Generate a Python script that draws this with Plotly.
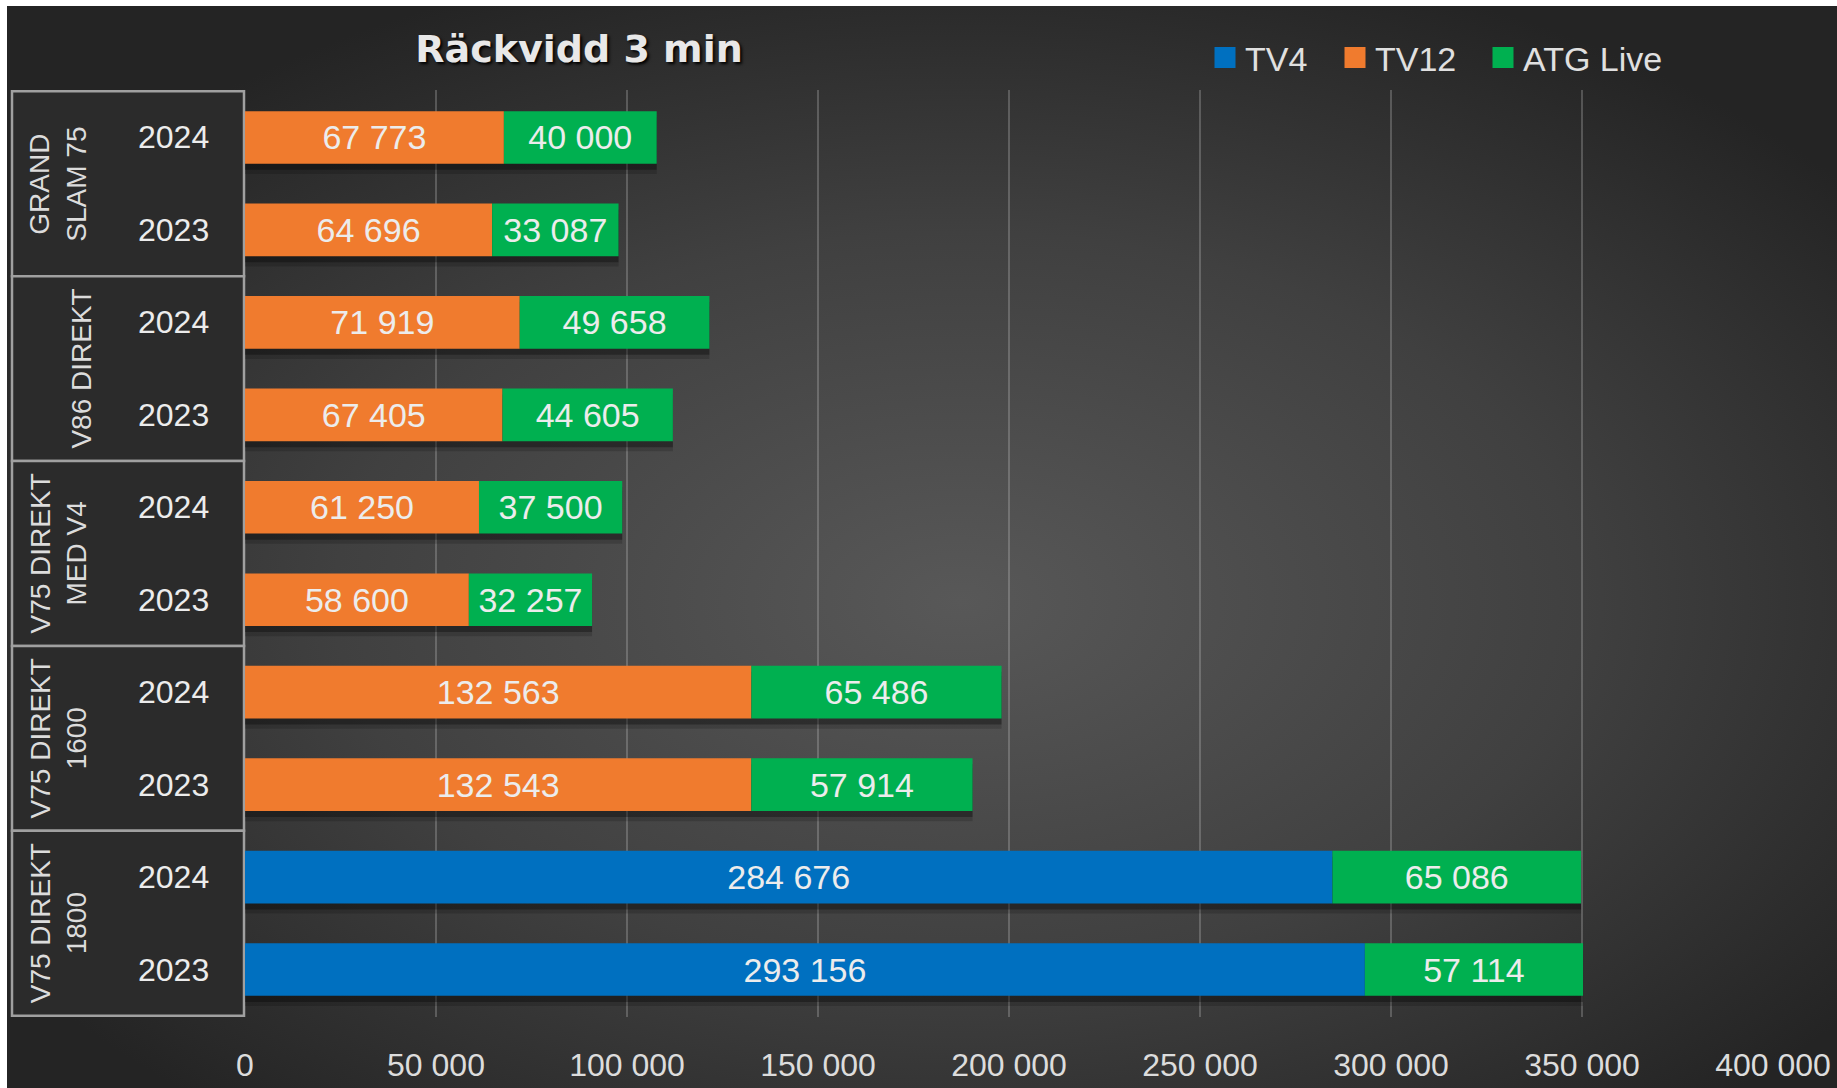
import plotly.graph_objects as go

# ---------------- data ----------------
groups = ["GRAND<br>SLAM 75", "V86 DIREKT", "V75 DIREKT<br>MED V4", "V75 DIREKT<br>1600", "V75 DIREKT<br>1800"]
years = ["2024", "2023"]
series_names = ["TV4", "TV12", "ATG Live"]
# values listed top-to-bottom (group order, 2024 then 2023)
tv4 = [None, None, None, None, None, None, None, None, 284676, 293156]
tv12 = [67773, 64696, 71919, 67405, 61250, 58600, 132563, 132543, None, None]
atg = [40000, 33087, 49658, 44605, 37500, 32257, 65486, 57914, 65086, 57114]
x_ticks = [0, 50000, 100000, 150000, 200000, 250000, 300000, 350000, 400000]
title_text = "Räckvidd 3 min"

colors = ["#0070C0", "#F07B2E", "#00B050"]

cats = [f"{g}|{y}" for g in groups for y in years]
z = lambda v: [0 if a is None else a for a in v]
base_tv12 = z(tv4)
base_atg = [a + b for a, b in zip(z(tv4), z(tv12))]
totals = [a + b for a, b in zip(base_atg, atg)]

BW = 0.57
FONT = "Liberation Sans, Arial, sans-serif"
TXT = "#ececec"

W, H = 1837, 1088
px = lambda v: v / W
py = lambda v: 1 - v / H
x0_px, x1_px = 245, 1773
y_top_px, y_bot_px = 90, 1017

fig = go.Figure()

# soft drop shadows under bars
for off, op in [(0.11, 0.16), (0.065, 0.30)]:
    fig.add_trace(go.Bar(
        y=cats, x=totals, base=[0] * len(cats), orientation="h",
        width=BW, offset=-BW / 2 + off,
        marker=dict(color=f"rgba(0,0,0,{op})", line=dict(width=0)),
        showlegend=False, hoverinfo="skip",
    ))

for name, vals, base, col in zip(series_names, [tv4, tv12, atg], [[0] * len(cats), base_tv12, base_atg], colors):
    fig.add_trace(go.Bar(
        name=name, y=cats, x=vals, base=base, orientation="h",
        width=BW, offset=-BW / 2, legendgroup=name, showlegend=False,
        marker=dict(color=col, line=dict(width=0)),
        texttemplate="%{x:,d}", textposition="inside", insidetextanchor="middle",
        constraintext="none",
        textfont=dict(family=FONT, size=34, color=TXT),
    ))

# legend entries (one small legend per series) with larger square keys
legend_ids = ["legend", "legend2", "legend3"]
legend_x = [1205, 1335, 1483]
for name, col, lid in zip(series_names, colors, legend_ids):
    fig.add_trace(go.Scatter(
        name=name, x=[None], y=[None], mode="markers", legendgroup=name, legend=lid,
        marker=dict(symbol="square", size=16, color=col, line=dict(color=col, width=5)),
        hoverinfo="skip",
    ))

legend_style = dict(orientation="h", xanchor="left", y=py(58), yanchor="middle",
                    bgcolor="rgba(0,0,0,0)", font=dict(family=FONT, size=34, color="#e0e0e0"),
                    itemwidth=30, itemsizing="trace")

# radial gradient background as an SVG image
svg = ("<svg xmlns='http://www.w3.org/2000/svg' width='100' height='100' preserveAspectRatio='none'>"
       "<defs><radialGradient id='g' cx='0.52' cy='0.55' r='0.62'>"
       "<stop offset='0' stop-color='%23585858'/><stop offset='0.55' stop-color='%23404040'/>"
       "<stop offset='1' stop-color='%23242424'/></radialGradient></defs>"
       "<rect width='100' height='100' fill='url(%23g)'/></svg>")
src = "data:image/svg+xml;utf8," + svg

shapes = []
annotations = []
for gi, g in enumerate(groups):
    i0 = gi * 2
    shapes.append(dict(type="rect", xref="paper", yref="y",
                       x0=px(12), x1=px(x0_px - 1), y0=i0 - 0.5, y1=i0 + 1.5,
                       fillcolor="#2b2b2b", line=dict(color="#a0a0a0", width=2.5), layer="below"))
    gx = 82 if "<br>" not in g else 58
    annotations.append(dict(xref="paper", yref="y", x=px(gx), y=i0 + 0.5, text=g,
                            textangle=-90, showarrow=False, align="center",
                            xanchor="center", yanchor="middle",
                            font=dict(family=FONT, size=28, color="#dcdcdc")))
    for yi, yr in enumerate(years):
        annotations.append(dict(xref="paper", yref="y", x=px(211), y=i0 + yi, text=yr,
                                xanchor="right", yanchor="middle", showarrow=False,
                                font=dict(family=FONT, size=32, color=TXT)))

fig.update_layout(
    width=W, height=H,
    margin=dict(l=0, r=0, t=0, b=0, autoexpand=False),
    paper_bgcolor="white", plot_bgcolor="rgba(0,0,0,0)",
    barmode="overlay", separators=", ",
    images=[dict(source=src, xref="paper", yref="paper", x=px(7), y=py(6),
                 sizex=1 - px(7), sizey=1 - 6 / H, sizing="stretch",
                 xanchor="left", yanchor="top", layer="below")],
    title=dict(text=title_text, x=px(579), xanchor="center", y=py(49), yanchor="middle",
               font=dict(family="DejaVu Sans", size=38, color="#e8e8e8", weight="bold",
                         shadow="2px 2px 3px #000000")),
    legend=dict(x=px(legend_x[0]), **legend_style),
    legend2=dict(x=px(legend_x[1]), **legend_style),
    legend3=dict(x=px(legend_x[2]), **legend_style),
    xaxis=dict(domain=[px(x0_px), px(x1_px)], range=[0, 400000], automargin=False,
               tickvals=x_ticks, tickformat=",d",
               showgrid=True, gridcolor="rgba(200,200,200,0.28)", gridwidth=2,
               zeroline=False, showline=False, ticks="", ticklabelstandoff=26,
               tickfont=dict(family=FONT, size=32, color="#dcdcdc")),
    yaxis=dict(domain=[py(y_bot_px), py(y_top_px)], type="category", automargin=False,
               categoryorder="array", categoryarray=cats, autorange="reversed",
               showticklabels=False, showgrid=False, zeroline=False, ticks=""),
    shapes=shapes, annotations=annotations,
    showlegend=True,
)

fig.write_html(
    "out.html",
    config={"displayModeBar": False},
    post_script="document.body.style.margin='0';document.body.style.overflow='hidden';",
)
